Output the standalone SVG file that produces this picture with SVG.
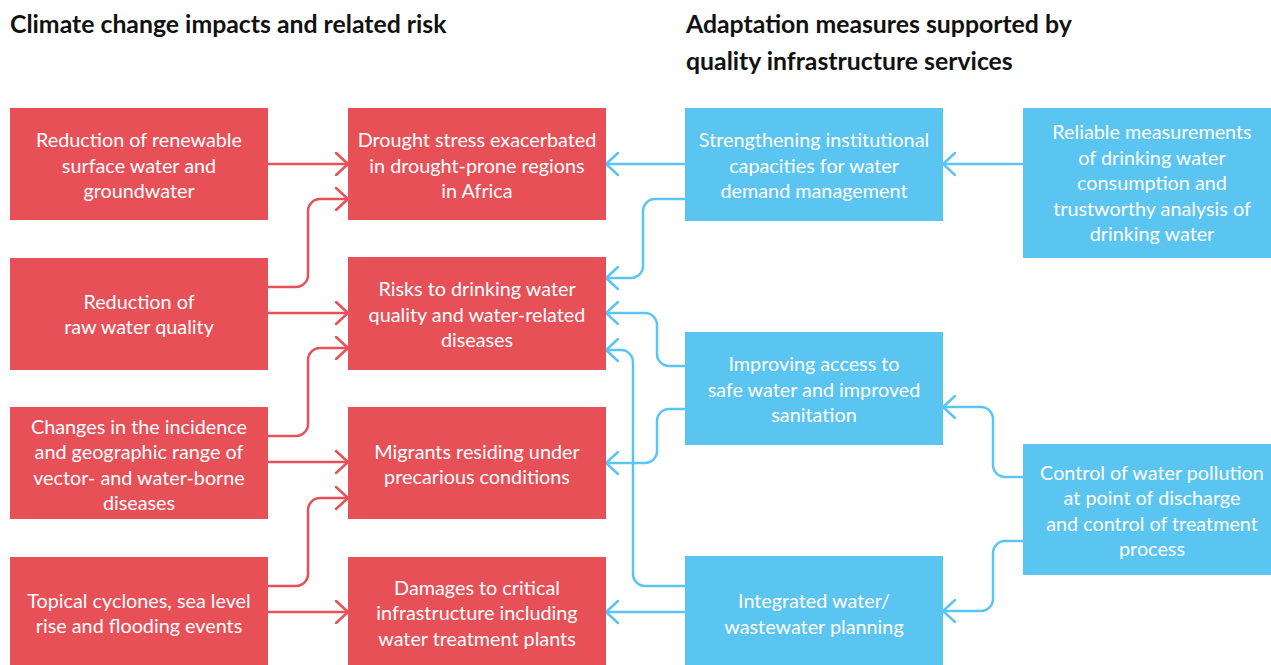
<svg xmlns="http://www.w3.org/2000/svg" width="1271" height="665" viewBox="0 0 1271 665">
<defs>
<style>
.r{fill:#E85058}
.b{fill:#5BC5F2}
.t{font-family:Lato,"Open Sans","Liberation Sans",sans-serif;font-size:19.8px;fill:#fff;text-anchor:middle}
.h{font-family:Lato,"Open Sans","Liberation Sans",sans-serif;font-size:24.8px;font-weight:bold;fill:#111}
.cr{fill:none;stroke:#E85058;stroke-width:2.5;marker-end:url(#ar)}
.cb{fill:none;stroke:#5BC5F2;stroke-width:2.5;marker-end:url(#ab)}
</style>
<marker id="ar" markerUnits="userSpaceOnUse" markerWidth="30" markerHeight="30" viewBox="-15 -15 30 30" refX="0" refY="0" orient="auto" overflow="visible">
<path d="M-12,-11 L0,0 L-12,11" fill="none" stroke="#E85058" stroke-width="2.5" stroke-linejoin="round" stroke-linecap="round"/>
</marker>
<marker id="ab" markerUnits="userSpaceOnUse" markerWidth="30" markerHeight="30" viewBox="-15 -15 30 30" refX="0" refY="0" orient="auto" overflow="visible">
<path d="M-12,-11 L0,0 L-12,11" fill="none" stroke="#5BC5F2" stroke-width="2.5" stroke-linejoin="round" stroke-linecap="round"/>
</marker>
</defs>
<rect width="1271" height="665" fill="#fff"/>
<text class="h" x="10" y="33">Climate change impacts and related risk</text>
<text class="h" x="686" y="33">Adaptation measures supported by</text>
<text class="h" x="686" y="70">quality infrastructure services</text>

<g id="connectors">
<path class="cr" d="M268,164 H348"/>
<path class="cr" d="M268,287 H296 A12,12 0 0 0 308,275 V211 A12,12 0 0 1 320,199 H348"/>
<path class="cr" d="M268,313 H348"/>
<path class="cr" d="M268,436 H296 A12,12 0 0 0 308,424 V360 A12,12 0 0 1 320,348 H348"/>
<path class="cr" d="M268,462 H348"/>
<path class="cr" d="M268,586 H296 A12,12 0 0 0 308,574 V510 A12,12 0 0 1 320,498 H348"/>
<path class="cr" d="M268,612 H348"/>
<path class="cb" d="M685,164 H606"/>
<path class="cb" d="M1023,164 H943"/>
<path class="cb" d="M685,199 H655 A12,12 0 0 0 643,211 V266 A12,12 0 0 1 631,278 H606"/>
<path class="cb" d="M685,366 H669 A12,12 0 0 1 657,354 V325 A12,12 0 0 0 645,313 H606"/>
<path class="cb" d="M685,586 H645 A12,12 0 0 1 633,574 V362 A12,12 0 0 0 621,350 H606"/>
<path class="cb" d="M685,409 H669 A12,12 0 0 0 657,421 V451 A12,12 0 0 1 645,463 H606"/>
<path class="cb" d="M685,612 H606"/>
<path class="cb" d="M1023,477 H1005 A12,12 0 0 1 993,465 V419 A12,12 0 0 0 981,407 H943"/>
<path class="cb" d="M1023,541 H1005 A12,12 0 0 0 993,553 V599 A12,12 0 0 1 981,611 H943"/>
</g>

<g id="n-l1"><rect class="r" x="10" y="108" width="258" height="112"/>
<text class="t"><tspan x="139" y="147">Reduction of renewable</tspan><tspan x="139" y="172.5">surface water and</tspan><tspan x="139" y="198">groundwater</tspan></text></g>
<g id="n-l2"><rect class="r" x="10" y="258" width="258" height="112"/>
<text class="t"><tspan x="139" y="308.5">Reduction of</tspan><tspan x="139" y="334">raw water quality</tspan></text></g>
<g id="n-l3"><rect class="r" x="10" y="407" width="258" height="112"/>
<text class="t"><tspan x="139" y="433.5">Changes in the incidence</tspan><tspan x="139" y="459">and geographic range of</tspan><tspan x="139" y="484.5">vector- and water-borne</tspan><tspan x="139" y="510">diseases</tspan></text></g>
<g id="n-l4"><rect class="r" x="10" y="557" width="258" height="108"/>
<text class="t"><tspan x="139" y="607.5">Topical cyclones, sea level</tspan><tspan x="139" y="633">rise and flooding events</tspan></text></g>

<g id="n-m1"><rect class="r" x="348" y="108" width="258" height="112"/>
<text class="t"><tspan x="477" y="147">Drought stress exacerbated</tspan><tspan x="477" y="172.5">in drought-prone regions</tspan><tspan x="477" y="198">in Africa</tspan></text></g>
<g id="n-m2"><rect class="r" x="348" y="257" width="258" height="113"/>
<text class="t"><tspan x="477" y="296">Risks to drinking water</tspan><tspan x="477" y="321.5">quality and water-related</tspan><tspan x="477" y="347">diseases</tspan></text></g>
<g id="n-m3"><rect class="r" x="348" y="407" width="258" height="112"/>
<text class="t"><tspan x="477" y="458.5">Migrants residing under</tspan><tspan x="477" y="484">precarious conditions</tspan></text></g>
<g id="n-m4"><rect class="r" x="348" y="557" width="258" height="108"/>
<text class="t"><tspan x="477" y="594.5">Damages to critical</tspan><tspan x="477" y="620">infrastructure including</tspan><tspan x="477" y="645.5">water treatment plants</tspan></text></g>

<g id="n-b1"><rect class="b" x="685" y="108" width="258" height="113"/>
<text class="t"><tspan x="814" y="147">Strengthening institutional</tspan><tspan x="814" y="172.5">capacities for water</tspan><tspan x="814" y="198">demand management</tspan></text></g>
<g id="n-b2"><rect class="b" x="685" y="332" width="258" height="113"/>
<text class="t"><tspan x="814" y="371">Improving access to</tspan><tspan x="814" y="396.5">safe water and improved</tspan><tspan x="814" y="422">sanitation</tspan></text></g>
<g id="n-b3"><rect class="b" x="685" y="556" width="258" height="109"/>
<text class="t"><tspan x="814" y="608">Integrated water/</tspan><tspan x="814" y="634">wastewater planning</tspan></text></g>

<g id="n-r1"><rect class="b" x="1023" y="108" width="258" height="150"/>
<text class="t"><tspan x="1152" y="139">Reliable measurements</tspan><tspan x="1152" y="164.5">of drinking water</tspan><tspan x="1152" y="190">consumption and</tspan><tspan x="1152" y="215.5">trustworthy analysis of</tspan><tspan x="1152" y="241">drinking water</tspan></text></g>
<g id="n-r2"><rect class="b" x="1023" y="444" width="258" height="131"/>
<text class="t"><tspan x="1152" y="479.5">Control of water pollution</tspan><tspan x="1152" y="505">at point of discharge</tspan><tspan x="1152" y="530.5">and control of treatment</tspan><tspan x="1152" y="556">process</tspan></text></g>
</svg>
